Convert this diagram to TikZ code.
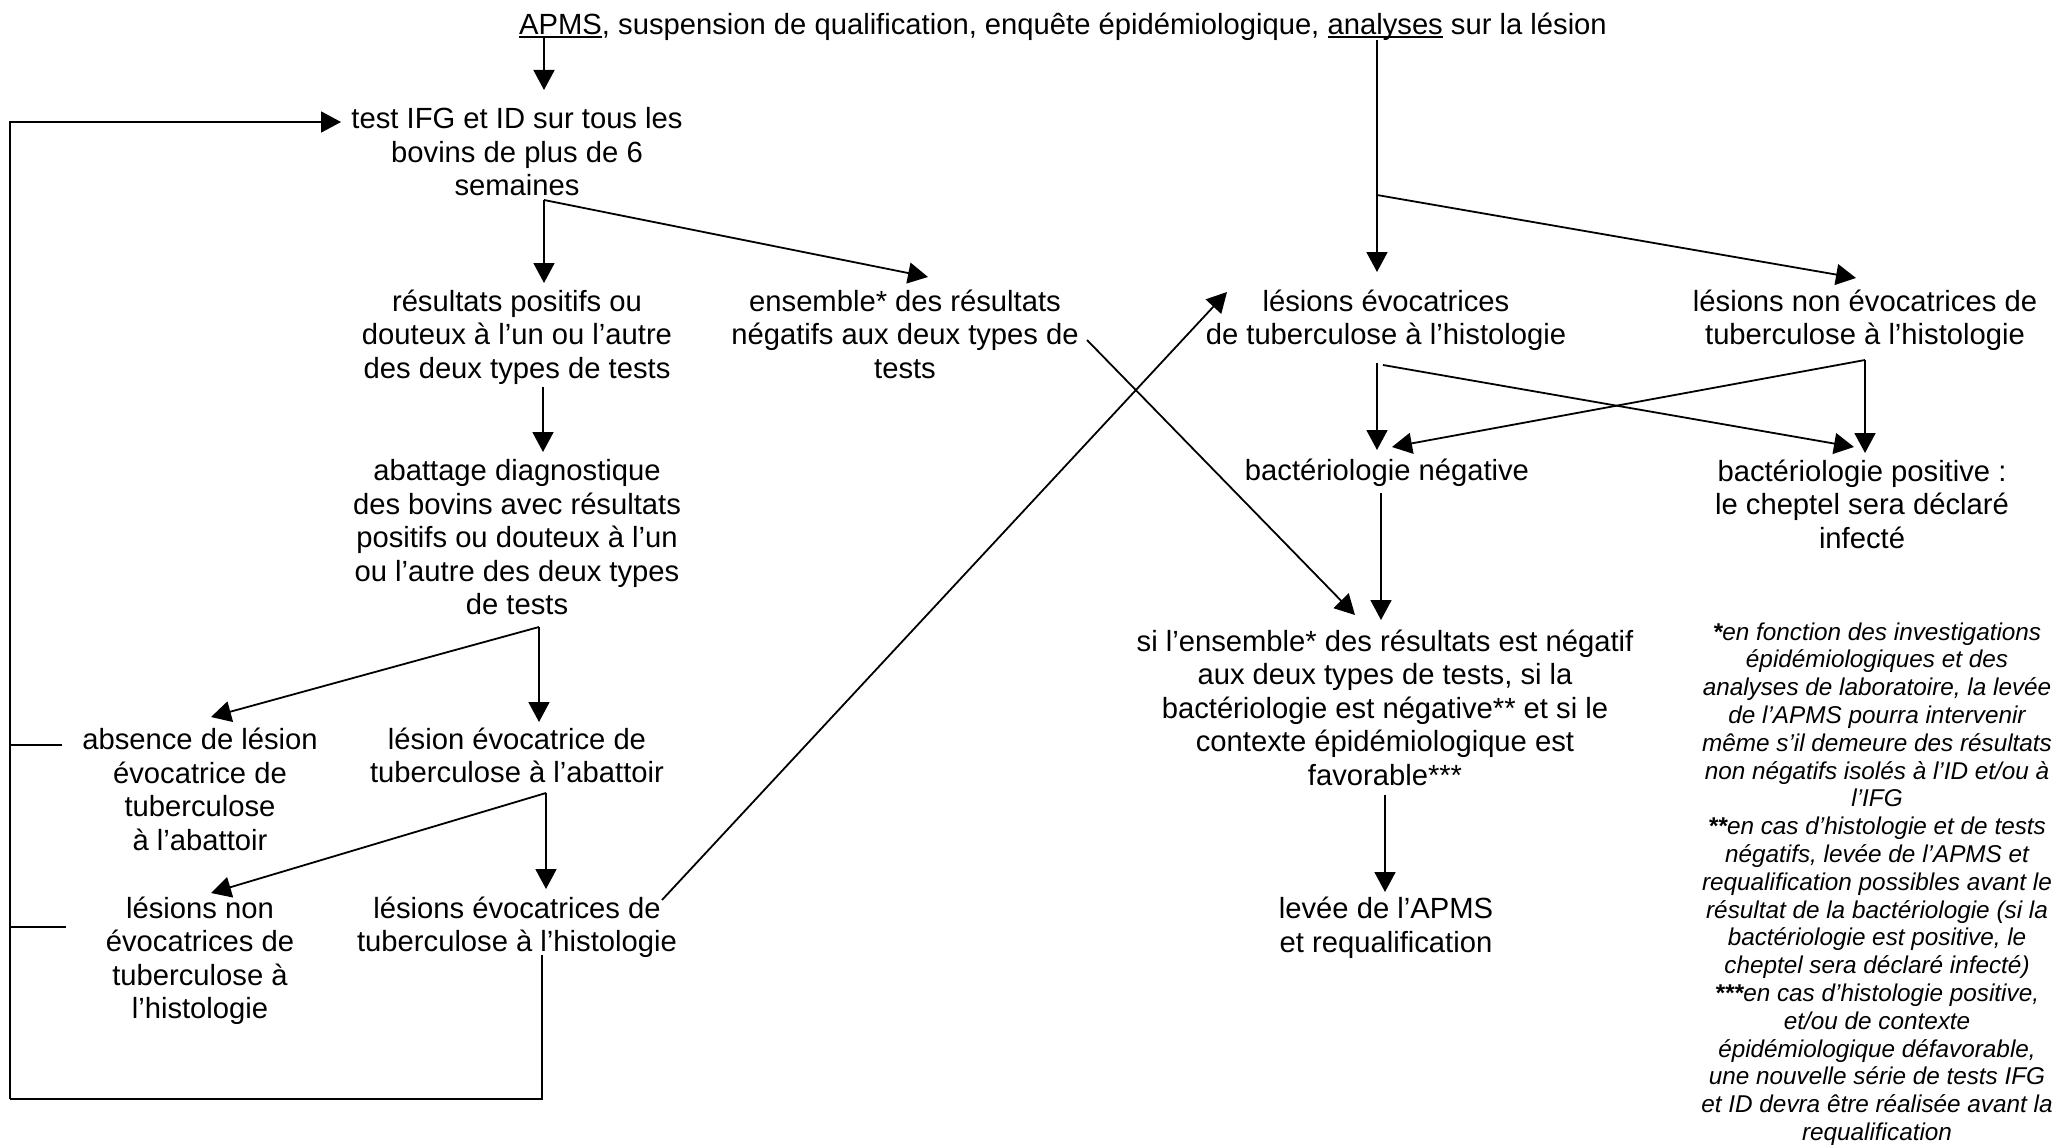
\documentclass[tikz,border=0pt]{standalone}
\usepackage{fontspec}
\setmainfont{Liberation Sans}
\usetikzlibrary{arrows.meta}
\newcommand\myul[1]{\setbox0\hbox{#1}\rlap{\rule[-1.9pt]{\wd0}{1.1pt}}#1}
\begin{document}
\begin{tikzpicture}[x=0.5pt,y=-0.5pt,
  lbl/.style={align=center, inner sep=0pt, font=\fontsize{14.6pt}{16.75pt}\selectfont,
    execute at begin node=\strut, execute at end node=\strut},
  notetxt/.style={align=center, inner sep=0pt, font=\fontsize{12.15pt}{13.9pt}\selectfont\itshape},
  conn/.style={line width=0.9pt},
  arr/.style={conn, -{Triangle[length=10pt,width=10.5pt]}}]
\useasboundingbox (0,0) rectangle (2056,1145);

% ---------- nodes ----------
\node[lbl] (title) at (1063,28) {\myul{APMS}, suspension de qualification, enquête épidémiologique, \myul{analyses} sur la lésion};
\node[lbl] (test) at (517,156.5) {test IFG et ID sur tous les\\bovins de plus de 6\\semaines};
\node[lbl] (pos) at (517,339) {résultats positifs ou\\douteux à l’un ou l’autre\\des deux types de tests};
\node[lbl] (ens) at (905,339) {ensemble* des résultats\\négatifs aux deux types de\\tests};
\node[lbl] (abat) at (517,542) {abattage diagnostique\\des bovins avec résultats\\positifs ou douteux à l’un\\ou l’autre des deux types\\de tests};
\node[lbl] (absence) at (200,794.5) {absence de lésion\\évocatrice de\\tuberculose\\à l’abattoir};
\node[lbl] (lesab) at (517,760.5) {lésion évocatrice de\\tuberculose à l’abattoir};
\node[lbl] (nonhist) at (200,963) {lésions non\\évocatrices de\\tuberculose à\\l’histologie};
\node[lbl] (evhist) at (517,929.5) {lésions évocatrices de\\tuberculose à l’histologie};
\node[lbl] (levh) at (1386,322.5) {lésions évocatrices\\de tuberculose à l’histologie};
\node[lbl] (nevh) at (1865,322.5) {lésions non évocatrices de\\tuberculose à l’histologie};
\node[lbl] (bneg) at (1387,473.5) {bactériologie négative};
\node[lbl] (bpos) at (1862,509) {bactériologie positive :\\le cheptel sera déclaré\\infecté};
\node[lbl] (cond) at (1385,712.5) {si l’ensemble* des résultats est négatif\\aux deux types de tests, si la\\bactériologie est négative** et si le\\contexte épidémiologique est\\favorable***};
\node[lbl] (levee) at (1386,930) {levée de l’APMS\\et requalification};
\node[notetxt] (note) at (1877,884) {\textbf{*}en fonction des investigations\\épidémiologiques et des\\analyses de laboratoire, la levée\\de l’APMS pourra intervenir\\même s’il demeure des résultats\\non négatifs isolés à l’ID et/ou à\\l’IFG\\\textbf{**}en cas d’histologie et de tests\\négatifs, levée de l’APMS et\\requalification possibles avant le\\résultat de la bactériologie (si la\\bactériologie est positive, le\\cheptel sera déclaré infecté)\\\textbf{***}en cas d’histologie positive,\\et/ou de contexte\\épidémiologique défavorable,\\une nouvelle série de tests IFG\\et ID devra être réalisée avant la\\requalification};

% ---------- ports ----------
\coordinate (title-apms) at (544,37);
\coordinate (title-ana) at (1377,40);
\coordinate (test-in) at (341,122);
\coordinate (test-top) at (544,90);
\coordinate (test-out) at (544,200);
\coordinate (pos-in) at (544,283);
\coordinate (ens-in) at (928,277);
\coordinate (ens-out) at (1087,340);
\coordinate (pos-out) at (543,387);
\coordinate (abat-in) at (543,452);
\coordinate (abat-out) at (539,627);
\coordinate (lesab-in) at (539,722);
\coordinate (absence-in) at (211,717);
\coordinate (absence-out) at (62,745);
\coordinate (lesab-out) at (546,793);
\coordinate (evhist-in) at (546,889);
\coordinate (nonhist-in) at (211,893);
\coordinate (nonhist-out) at (66,927);
\coordinate (evhist-out) at (662,900);
\coordinate (evhist-bot) at (542,955);
\coordinate (loop-br) at (542,1099);
\coordinate (loop-bl) at (10,1099);
\coordinate (loop-tl) at (10,122);
\coordinate (absence-j) at (10,745);
\coordinate (nonhist-j) at (10,927);
\coordinate (levh-in2) at (1227,292);
\coordinate (ana-split) at (1377,195);
\coordinate (levh-in) at (1377,272);
\coordinate (nevh-in) at (1856,278);
\coordinate (levh-out) at (1377,363);
\coordinate (levh-out2) at (1383,365);
\coordinate (nevh-out) at (1865,360);
\coordinate (bneg-in) at (1377,450);
\coordinate (bneg-in2) at (1392,447);
\coordinate (bpos-in) at (1865,453);
\coordinate (bpos-in2) at (1854,447);
\coordinate (bneg-out) at (1381,493);
\coordinate (cond-in) at (1381,620);
\coordinate (cond-in2) at (1355,615);
\coordinate (cond-out) at (1385,795);
\coordinate (levee-in) at (1385,892);

% ---------- connectors ----------
\draw[arr] (title-apms) -- (test-top);
\draw[arr] (test-out) -- (pos-in);
\draw[arr] (test-out) -- (ens-in);
\draw[arr] (pos-out) -- (abat-in);
\draw[arr] (abat-out) -- (lesab-in);
\draw[arr] (abat-out) -- (absence-in);
\draw[arr] (lesab-out) -- (evhist-in);
\draw[arr] (lesab-out) -- (nonhist-in);
\draw[arr] (evhist-out) -- (levh-in2);
\draw[arr] (ens-out) -- (cond-in2);
\draw[conn] (absence-out) -- (absence-j);
\draw[conn] (nonhist-out) -- (nonhist-j);
\draw[conn] (evhist-bot) -- (loop-br) -- (loop-bl);
\draw[arr] (loop-bl) -- (loop-tl) -- (test-in);
\draw[arr] (title-ana) -- (levh-in);
\draw[arr] (ana-split) -- (nevh-in);
\draw[arr] (levh-out) -- (bneg-in);
\draw[arr] (levh-out2) -- (bpos-in2);
\draw[arr] (nevh-out) -- (bpos-in);
\draw[arr] (nevh-out) -- (bneg-in2);
\draw[arr] (bneg-out) -- (cond-in);
\draw[arr] (cond-out) -- (levee-in);
\end{tikzpicture}
\end{document}
